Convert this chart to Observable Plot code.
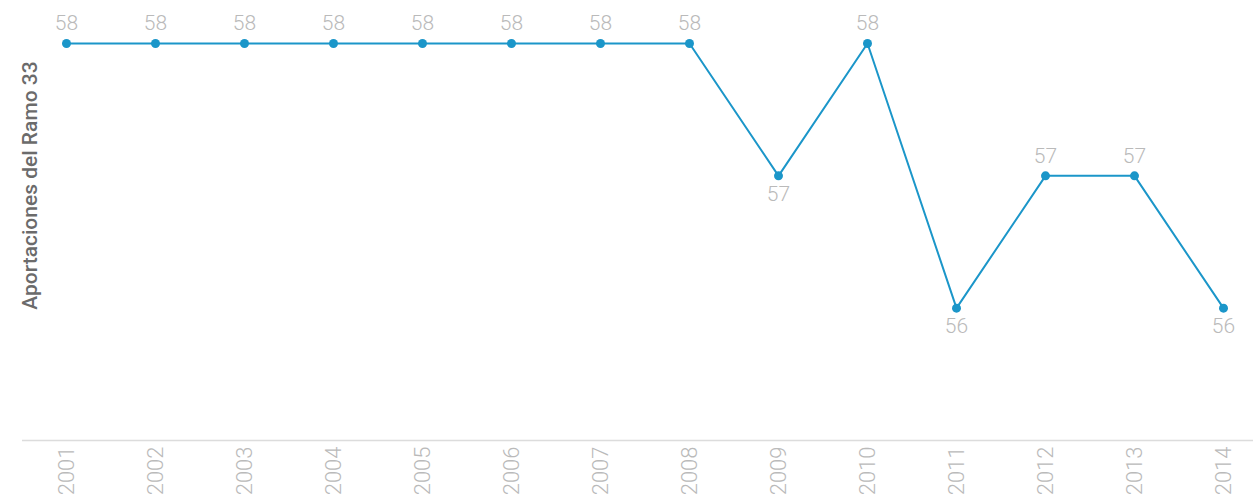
<!DOCTYPE html>
<html>
<head>
<meta charset="utf-8">
<script src="https://cdn.jsdelivr.net/npm/d3@7"></script>
<script src="https://cdn.jsdelivr.net/npm/@observablehq/plot@0.6"></script>
<style>
  html, body { margin: 0; padding: 0; background: #fff; }
  #chart svg { display: block; }
</style>
</head>
<body>
<div id="chart"></div>
<script>
// Aportaciones del Ramo 33, 2001–2014
const years = ["2001","2002","2003","2004","2005","2006","2007","2008","2009","2010","2011","2012","2013","2014"];
const values = [58, 58, 58, 58, 58, 58, 58, 58, 57, 58, 56, 57, 57, 56];
const yLabel = "Aportaciones del Ramo 33";

const data = years.map((year, i) => ({
  year,
  value: values[i],
  // labels sit under a point that dropped from the previous year
  below: i > 0 && values[i] < values[i - 1]
}));

const lineColor = "#1b96c9";
const labelColor = "#bababa";
const font = "Roboto, 'Liberation Sans', sans-serif";

const chart = Plot.plot({
  width: 1253,
  height: 497,
  marginTop: 43,
  marginBottom: 57,
  marginLeft: 60,
  marginRight: 25,
  style: { fontFamily: font, background: "#fff" },
  x: { type: "point", domain: years, padding: 0, label: null },
  y: { domain: [55, 58], axis: null },
  marks: [
    // baseline runs past the first and last year
    Plot.ruleY([55], { stroke: "#dcdcdc", strokeWidth: 1.5, insetLeft: -38, insetRight: -25 }),
    Plot.axisX({
      tickSize: 0,
      tickRotate: -90,
      tickPadding: 6,
      fontSize: 22,
      fontWeight: 300,
      fill: labelColor,
      label: null
    }),
    Plot.line(data, { x: "year", y: "value", stroke: lineColor, strokeWidth: 2 }),
    Plot.dot(data, { x: "year", y: "value", r: 4.5, fill: lineColor }),
    Plot.text(data.filter(d => !d.below), {
      x: "year", y: "value", text: d => String(d.value),
      dy: -20, fontSize: 21, fontWeight: 300, fill: labelColor
    }),
    Plot.text(data.filter(d => d.below), {
      x: "year", y: "value", text: d => String(d.value),
      dy: 18, fontSize: 21, fontWeight: 300, fill: labelColor
    }),
    Plot.text([yLabel], {
      frameAnchor: "top-left",
      dx: -38, dy: 142,
      rotate: -90,
      textAnchor: "middle",
      fontSize: 21,
      fontWeight: 500,
      fill: "#6b6b6b"
    })
  ]
});

document.getElementById("chart").append(chart);
</script>
</body>
</html>
